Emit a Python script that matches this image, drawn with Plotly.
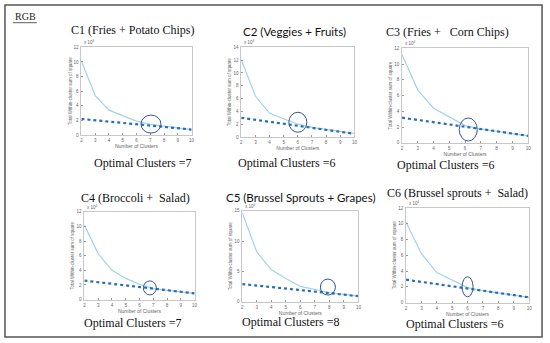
import plotly.graph_objects as go

W, H = 550, 343

# ---- data ----
titles = ["C1 (Fries + Potato Chips)", "C2 (Veggies + Fruits)", "C3 (Fries +\u00a0\u00a0 Corn Chips)",
          "C4 (Broccoli +\u00a0 Salad)", "C5 (Brussel Sprouts + Grapes)", "C6 (Brussel sprouts +\u00a0 Salad)"]
title_serif = [True, False, True, True, False, True]
optimal_k = [7, 6, 6, 7, 8, 6]
clusters = [2, 3, 4, 5, 6, 7, 8, 9, 10]
wcss = [
    [10.1, 5.4, 3.4, 2.6, 1.9, 1.45, 1.2, 0.95, 0.75],
    [12.1, 6.4, 3.7, 2.8, 2.0, 1.5, 1.15, 0.85, 0.55],
    [11.2, 6.7, 4.4, 3.3, 2.2, 1.75, 1.45, 1.2, 0.9],
    [10.2, 6.3, 4.0, 2.9, 2.1, 1.5, 1.25, 1.05, 0.85],
    [14.7, 8.2, 5.3, 3.8, 2.5, 2.0, 1.5, 1.2, 0.9],
    [10.2, 6.2, 3.8, 2.8, 1.9, 1.5, 1.2, 0.95, 0.66],
]
line_x = [2, 10]
line_y = [[2.2, 0.75], [3.0, 0.5], [3.2, 0.9], [2.6, 0.85], [2.9, 0.9], [2.9, 0.66]]
circle_x = [7.05, 6.0, 6.2, 6.75, 7.9, 6.0]
circle_y = [1.5, 2.3, 1.7, 1.6, 2.4, 2.0]
y_max = [12, 14, 12, 12, 15, 12]
y_dtick = [2, 2, 2, 2, 5, 2]

# ---- layout (pixels) ----
boxes = [  # x0, x1, ytop, ybottom
    (81, 192, 46, 135), (242, 356, 46, 137), (404, 531, 47, 143),
    (84, 195, 213, 302), (243, 360, 212, 304), (408, 532, 209, 305),
]
title_pos = [(132, 28), (296, 30), (450, 30), (135, 199), (302, 198), (460, 194)]
opt_pos = [(143, 163), (288, 163), (448, 165), (132, 326), (292, 325), (457, 327)]
circle_size = [(20, 18), (18, 20), (18, 23), (13, 14), (15, 16), (11, 20)]

def px(x):
    return x / W

def py(y):
    return 1 - y / H

fig = go.Figure()
shapes = []
annotations = []
serif = "Liberation Serif, Times New Roman, serif"
sans = "Lato, Liberation Sans, sans-serif"

for i in range(6):
    n = "" if i == 0 else str(i + 1)
    xa, ya = "x" + n, "y" + n
    x0, x1, yt, yb = boxes[i]
    fig.add_trace(go.Scatter(x=clusters, y=wcss[i], mode="lines", xaxis=xa, yaxis=ya,
                             line=dict(color="#9fd4ec", width=1.2), showlegend=False, hoverinfo="skip"))
    fig.add_trace(go.Scatter(x=line_x, y=line_y[i], mode="lines", xaxis=xa, yaxis=ya,
                             line=dict(color="#2a6db5", width=2.2, dash="dot"), showlegend=False, hoverinfo="skip"))
    axcommon = dict(showgrid=False, zeroline=False, showline=True, mirror=True, linecolor="#c8c8c8",
                    linewidth=0.8, ticks="inside", ticklen=2, tickcolor="#999", ticklabelstandoff=1,
                    tickfont=dict(size=4.5, color="#666", family="Liberation Sans"))
    fig.update_layout(**{
        ("xaxis" + n): dict(domain=[px(x0), px(x1)], anchor=ya, range=[2, 10], dtick=1, **axcommon,
                            title=dict(text="Number of Clusters", font=dict(size=5, color="#666",
                                       family="Liberation Sans"), standoff=0)),
        ("yaxis" + n): dict(domain=[py(yb), py(yt)], anchor=xa, range=[0, y_max[i]], dtick=y_dtick[i], **axcommon,
                            title=dict(text="Total Within-cluster sum of square", font=dict(size=4.5, color="#666",
                                       family="Liberation Sans"), standoff=1)),
    })
    cw, ch = circle_size[i]
    shapes.append(dict(type="circle", xref=xa, yref=ya, xsizemode="pixel", ysizemode="pixel",
                       xanchor=circle_x[i], yanchor=circle_y[i],
                       x0=-cw / 2, x1=cw / 2, y0=-ch / 2, y1=ch / 2,
                       line=dict(color="#34559a", width=1)))
    annotations.append(dict(text="x 10<sup>4</sup>", x=px(x0 + 1), y=py(yt), xref="paper", yref="paper",
                            xanchor="left", yanchor="bottom", showarrow=False,
                            font=dict(size=4.5, color="#666", family="Liberation Sans")))
    tx, ty = title_pos[i]
    annotations.append(dict(text=titles[i], x=px(tx), y=py(ty), xref="paper", yref="paper",
                            xanchor="center", yanchor="middle", showarrow=False,
                            font=dict(size=12 if title_serif[i] else 11.5, color="#111",
                                      family=serif if title_serif[i] else sans)))
    ox, oy = opt_pos[i]
    annotations.append(dict(text="Optimal Clusters =" + str(optimal_k[i]), x=px(ox), y=py(oy),
                            xref="paper", yref="paper", xanchor="center", yanchor="middle", showarrow=False,
                            borderpad=0, font=dict(size=12, color="#111", family=serif)))

annotations.append(dict(text="RGB", x=px(12), y=py(15), xref="paper", yref="paper", xanchor="left",
                        yanchor="middle", showarrow=False, font=dict(size=10, color="#222", family=serif)))
shapes.append(dict(type="line", xref="paper", yref="paper", x0=px(12), x1=px(36), y0=py(21), y1=py(21),
                   line=dict(color="#333", width=0.8)))
shapes.append(dict(type="rect", xref="paper", yref="paper", x0=px(4), x1=px(545), y0=py(340), y1=py(3),
                   line=dict(color="#555", width=1.5)))

fig.update_layout(width=W, height=H, margin=dict(l=0, r=0, t=0, b=0), plot_bgcolor="white",
                  paper_bgcolor="white", shapes=shapes, annotations=annotations)
fig.write_html("out.html", config={"displayModeBar": False},
               post_script="document.body.style.margin='0';document.body.style.overflow='hidden';")
